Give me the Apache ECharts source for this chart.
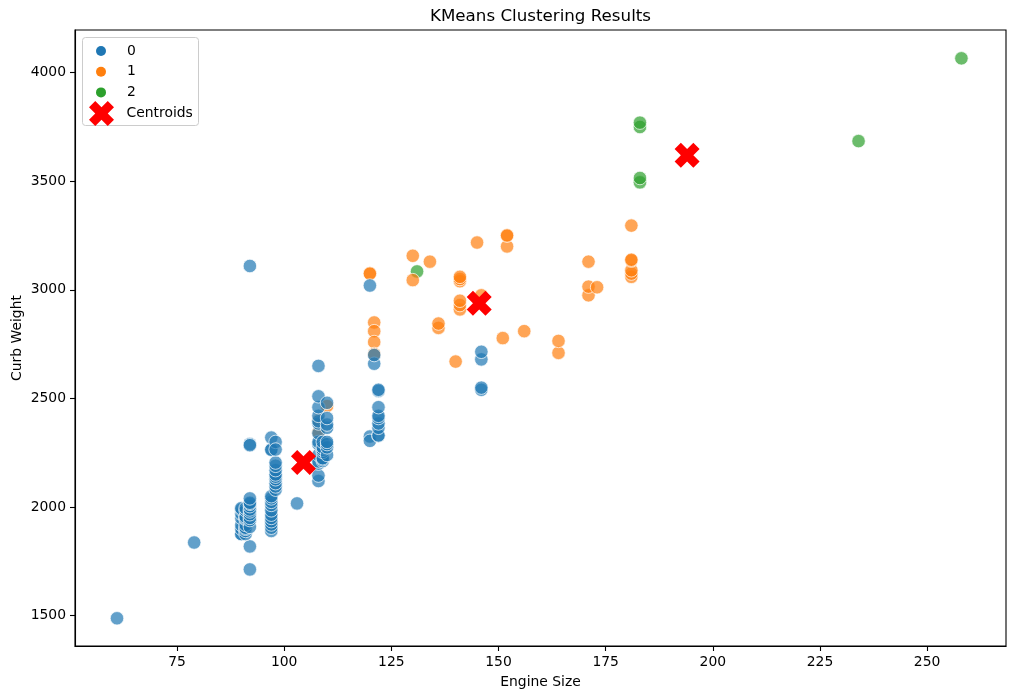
<!DOCTYPE html>
<html><head><meta charset="utf-8">
<style>html,body{margin:0;padding:0;background:#fff}#c{width:1014px;height:699px}</style>
<script src="https://cdn.jsdelivr.net/npm/echarts@6/dist/echarts.min.js"></script>
</head><body><div id="c"></div>
<script>
const xTicks = [75,100,125,150,175,200,225,250];
const yTicks = [1500,2000,2500,3000,3500,4000];
const cluster0 = [[61,1488],[79,1837],[92,1713],[92,1819],[92,3110],[92,2290],[92,2285],[103,2017],[108,2650],[120,3020],[120,2325],[120,2305],
[90,1876],[90,1876],[90,1900],[90,1918],[90,1950],[90,1970],[90,1989],[90,1995],
[91,1876],[91,1890],[91,1900],[91,1905],[91,1918],[91,1945],[91,1950],[91,1956],[91,1985],[91,1995],
[92,1909],[92,1940],[92,1950],[92,1967],[92,1980],[92,1989],[92,2004],[92,2015],[92,2020],[92,2040],
[97,1890],[97,1905],[97,1920],[97,1935],[97,1950],[97,1965],[97,1985],[97,2010],[97,2024],[97,2040],[97,2050],[97,2265],[97,2264],[97,2320],
[98,2080],[98,2095],[98,2110],[98,2128],[98,2140],[98,2150],[98,2170],[98,2190],[98,2205],[98,2300],[98,2265],
[108,2120],[108,2145],[108,2200],[108,2210],[108,2240],[108,2290],[108,2300],[108,2340],[108,2385],[108,2395],[108,2420],[108,2460],[108,2510],
[109,2212],[109,2220],[109,2225],[109,2254],[109,2264],[109,2275],[109,2300],
[110,2240],[110,2275],[110,2290],[110,2300],[110,2365],[110,2380],[110,2410],[110,2480],
[121,2660],[121,2700],
[122,2328],[122,2330],[122,2365],[122,2385],[122,2410],[122,2420],[122,2460],[122,2535],[122,2540],
[146,2540],[146,2550],[146,2680],[146,2715]];
const cluster1 = [[108,2400],[108,2345],[110,2465],[120,3075],[120,3075],[121,2850],[121,2810],[121,2760],[121,2705],
[130,3157],[130,3045],[134,3130],[136,2825],[136,2845],[140,2670],
[141,3040],[141,3050],[141,3060],[141,2910],[141,2930],[141,2950],[145,3218],[146,2975],
[151,2778],[152,3200],[152,3252],[152,3250],[156,2810],[164,2710],[164,2765],
[171,2975],[171,3015],[171,3130],[173,3012],
[181,3060],[181,3075],[181,3090],[181,3135],[181,3139],[181,3296]];
const cluster2 = [[131,3085],[183,3750],[183,3770],[183,3495],[183,3515],[234,3685],[258,4066]];
const centroids = [[104.5,2205],[145.5,2938],[194,3620]];
const names = ['0','1','2','Centroids'];
const colors = ['#1f77b4','#ff7f0e','#2ca02c','#ff0000'];
const FONT = '"DejaVu Sans"';
const X_MARK = 'path://M5,0 L10,5 L15,0 L20,5 L15,10 L20,15 L15,20 L10,15 L5,20 L0,15 L5,10 L0,5 Z';
const pts = (name,data,color,z)=>({name,type:'scatter',data,symbol:'circle',symbolSize:13.5,z,
  itemStyle:{color,opacity:0.7,borderColor:'#fff',borderWidth:1},emphasis:{disabled:true}});
const axisCommon = {
  axisLine:{show:true,onZero:false,lineStyle:{color:'#000',width:1.1}},
  axisTick:{show:true,length:5,lineStyle:{color:'#000',width:1.1}},
  splitLine:{show:false},
  nameLocation:'middle',
  nameMoveOverlap:false,
  nameTextStyle:{fontFamily:FONT,fontSize:13.9,color:'#000'}
};
const labelStyle = {margin:9,fontFamily:FONT,fontSize:13.9,color:'#000',formatter:v=>String(v)};
const chart = echarts.init(document.getElementById('c'),null,{renderer:'canvas'});
chart.setOption({
  animation:false,
  backgroundColor:'#fff',
  title:{text:'KMeans Clustering Results',left:425,top:3,
    textStyle:{fontFamily:FONT,fontSize:16.7,fontWeight:'normal',color:'#000'}},
  grid:{left:75,right:8,top:30,bottom:53,outerBoundsMode:'none',containLabel:false,show:true,borderColor:'#000',borderWidth:1.1,backgroundColor:'transparent'},
  xAxis:Object.assign({},axisCommon,{type:'value',name:'Engine Size',nameGap:29,min:51.2,max:268.4,
    axisTick:Object.assign({},axisCommon.axisTick,{customValues:xTicks}),
    axisLabel:Object.assign({customValues:xTicks},labelStyle)}),
  yAxis:Object.assign({},axisCommon,{type:'value',name:'Curb Weight',nameGap:51,min:1360.5,max:4196.5,
    axisTick:Object.assign({},axisCommon.axisTick,{customValues:yTicks}),
    axisLabel:Object.assign({customValues:yTicks,padding:[3,0,0,0]},labelStyle)}),
  legend:[
    {left:91,top:39,orient:'vertical',data:names.slice(0,3).map(n=>({name:n,icon:'circle'})),
     itemWidth:26,itemHeight:10,itemGap:6.7,selectedMode:false,
     itemStyle:{opacity:1,borderWidth:0},
     textStyle:{fontFamily:FONT,fontSize:13.9,color:'#000',padding:[0,0,0,8]}},
    {left:84,top:96,orient:'vertical',data:[{name:'Centroids',icon:X_MARK}],
     itemWidth:26,itemHeight:25,selectedMode:false,
     itemStyle:{opacity:1,borderWidth:0},
     textStyle:{fontFamily:FONT,fontSize:13.9,color:'#000',padding:[0,0,0,7]}}
  ],
  graphic:[{type:'rect',z:-1,shape:{x:82.5,y:37.5,width:116,height:88,r:3},
    style:{fill:'rgba(255,255,255,0.8)',stroke:'#ccc',lineWidth:1}}],
  series:[
    pts(names[0],cluster0,colors[0],4),
    pts(names[1],cluster1,colors[1],3),
    pts(names[2],cluster2,colors[2],2),
    {name:names[3],type:'scatter',data:centroids,symbol:X_MARK,symbolSize:25,z:6,
     itemStyle:{color:colors[3],opacity:1},emphasis:{disabled:true}}
  ]
});
</script></body></html>
